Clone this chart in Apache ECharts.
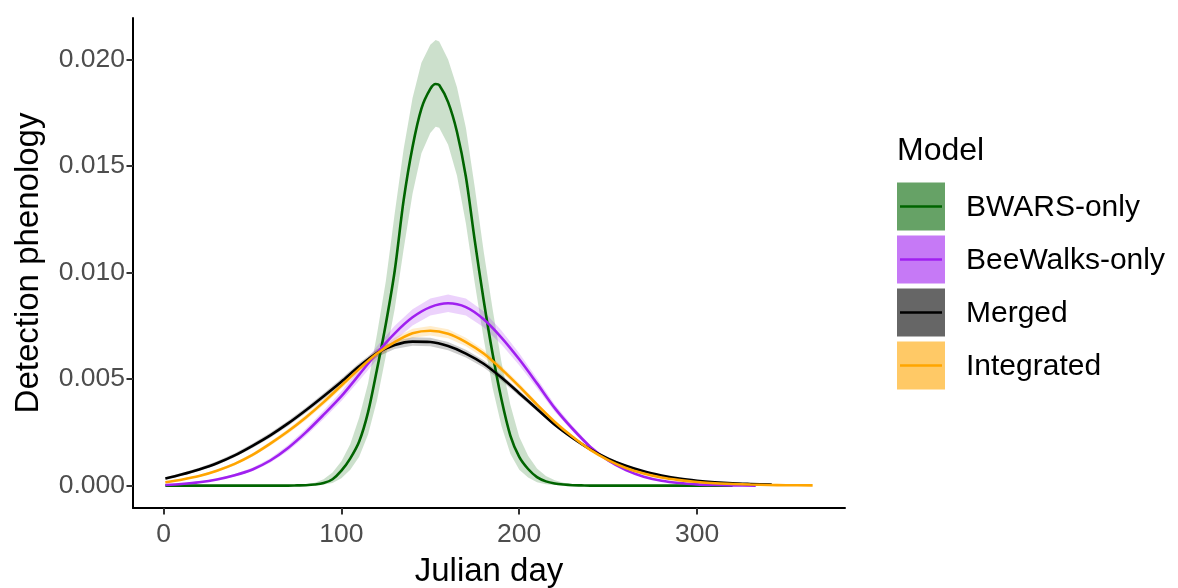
<!DOCTYPE html>
<html>
<head>
<meta charset="utf-8">
<script src="https://cdn.jsdelivr.net/npm/echarts@6/dist/echarts.min.js"></script>
<style>
  html, body { margin: 0; padding: 0; background: #ffffff; }
  #chart { width: 1178px; height: 588px; }
</style>
</head>
<body>
<div id="chart"></div>
<script>
// Detection phenology curves by model, with credible-interval ribbons

const modelNames = ['BWARS-only', 'BeeWalks-only', 'Merged', 'Integrated'];
const xTicks = [0, 100, 200, 300];
const yTicks = [0, 0.005, 0.010, 0.015, 0.020];

// BWARS-only
const bwarsDays = [1, 20, 40, 60, 70,
  75, 80, 85, 90, 95, 100, 105, 110, 115, 120, 125, 130, 135, 140, 145, 150, 153, 155,
  160, 165, 170, 175, 180, 185, 190, 195, 200, 205, 210, 215, 220, 225, 230, 235, 240,
  260, 280, 300, 320];
const bwarsMean = [0, 0, 0, 0, 0,
  0.00001, 0.00002, 0.00005, 0.00012, 0.00030, 0.00070, 0.00128, 0.00207, 0.00345, 0.00545,
  0.00760, 0.01010, 0.01340, 0.01590, 0.01770, 0.01862, 0.01885, 0.01880,
  0.01800, 0.01660, 0.01450, 0.01150, 0.00870, 0.00620, 0.00405, 0.00235, 0.00135, 0.00078,
  0.00040, 0.00020, 0.00010, 0.00005, 0.00002, 0.00001, 0,
  0, 0, 0, 0];
const bwarsLow = [0, 0, 0, 0, 0,
  0, 0.00001, 0.00002, 0.00005, 0.00012, 0.00035, 0.00075, 0.00135, 0.00240, 0.00400,
  0.00610, 0.00830, 0.01110, 0.01370, 0.01560, 0.01655, 0.01684, 0.01680,
  0.01600, 0.01455, 0.01230, 0.00950, 0.00690, 0.00460, 0.00280, 0.00150, 0.00075, 0.00038,
  0.00016, 0.00007, 0.00003, 0.00001, 0, 0, 0,
  0, 0, 0, 0];
const bwarsHigh = [0, 0, 0, 0, 0.00001,
  0.00003, 0.00006, 0.00013, 0.00030, 0.00062, 0.00115, 0.00195, 0.00320, 0.00480, 0.00710,
  0.00960, 0.01280, 0.01580, 0.01820, 0.01985, 0.02070, 0.02092, 0.02085,
  0.02000, 0.01870, 0.01680, 0.01400, 0.01100, 0.00830, 0.00580, 0.00380, 0.00230, 0.00140,
  0.00080, 0.00045, 0.00025, 0.00013, 0.00006, 0.00003, 0.00001,
  0, 0, 0, 0];

// BeeWalks-only
const beeWalksDays = [1, 10, 20, 30, 40, 50, 60, 70, 80, 90,
  100, 110, 120, 130, 140, 150, 160, 170, 180, 190,
  200, 210, 220, 230, 240, 250, 260, 270, 280, 290,
  300, 310, 320, 333];
const beeWalksMean = [0.00003, 0.00008, 0.00016, 0.00029, 0.00049, 0.00076, 0.00118, 0.00177, 0.00250, 0.00333,
  0.00420, 0.00521, 0.00623, 0.00715, 0.00790, 0.00838, 0.00856, 0.00838, 0.00781, 0.00695,
  0.00593, 0.00480, 0.00364, 0.00267, 0.00182, 0.00118, 0.00073, 0.00042, 0.00023, 0.00012,
  0.00006, 0.00003, 0.00001, 0.00000];
const beeWalksLow = [0.00002, 0.00006, 0.00013, 0.00025, 0.00043, 0.00068, 0.00107, 0.00163, 0.00233, 0.00313,
  0.00397, 0.00494, 0.00592, 0.00680, 0.00752, 0.00798, 0.00815, 0.00798, 0.00744, 0.00662,
  0.00565, 0.00457, 0.00347, 0.00254, 0.00173, 0.00112, 0.00069, 0.00040, 0.00021, 0.00011,
  0.00005, 0.00002, 0.00001, 0.00000];
const beeWalksHigh = [0.00004, 0.00010, 0.00019, 0.00033, 0.00055, 0.00084, 0.00129, 0.00191, 0.00267, 0.00353,
  0.00443, 0.00548, 0.00654, 0.00750, 0.00828, 0.00878, 0.00897, 0.00878, 0.00818, 0.00728,
  0.00621, 0.00503, 0.00381, 0.00280, 0.00191, 0.00124, 0.00077, 0.00044, 0.00025, 0.00013,
  0.00007, 0.00004, 0.00002, 0.00001];

// Merged
const mergedDays = [1, 10, 20, 30, 40, 50, 60, 70, 80, 90,
  100, 110, 120, 130, 140, 150, 160, 170, 180, 190,
  200, 210, 220, 230, 240, 250, 260, 270, 280, 290,
  300, 310, 320, 330, 342];
const mergedMean = [0.00033, 0.00052, 0.00076, 0.00105, 0.00142, 0.00187, 0.00236, 0.00292, 0.00354, 0.00420,
  0.00488, 0.00560, 0.00622, 0.00660, 0.00676, 0.00674, 0.00655, 0.00620, 0.00572, 0.00507,
  0.00434, 0.00360, 0.00286, 0.00224, 0.00170, 0.00127, 0.00093, 0.00067, 0.00048, 0.00033,
  0.00023, 0.00016, 0.00011, 0.00008, 0.00005];
const mergedLow = [0.00028, 0.00046, 0.00069, 0.00097, 0.00133, 0.00177, 0.00225, 0.00280, 0.00341, 0.00406,
  0.00473, 0.00544, 0.00604, 0.00641, 0.00656, 0.00654, 0.00636, 0.00602, 0.00555, 0.00492,
  0.00421, 0.00349, 0.00277, 0.00217, 0.00164, 0.00122, 0.00089, 0.00064, 0.00045, 0.00031,
  0.00021, 0.00014, 0.00009, 0.00006, 0.00003];
const mergedHigh = [0.00039, 0.00059, 0.00084, 0.00114, 0.00152, 0.00198, 0.00248, 0.00305, 0.00367, 0.00434,
  0.00503, 0.00576, 0.00640, 0.00679, 0.00696, 0.00694, 0.00674, 0.00638, 0.00589, 0.00522,
  0.00447, 0.00371, 0.00295, 0.00231, 0.00176, 0.00132, 0.00097, 0.00070, 0.00051, 0.00035,
  0.00025, 0.00018, 0.00013, 0.00010, 0.00007];

// Integrated
const integratedDays = [1, 10, 20, 30, 40, 50, 60, 70, 80, 90,
  100, 110, 120, 130, 140, 150, 160, 170, 180, 190,
  200, 210, 220, 230, 240, 250, 260, 270, 280, 290,
  300, 310, 320, 330, 340, 350, 365];
const integratedMean = [0.00016, 0.00028, 0.00045, 0.00070, 0.00102, 0.00144, 0.00197, 0.00255, 0.00320, 0.00392,
  0.00470, 0.00548, 0.00620, 0.00674, 0.00715, 0.00727, 0.00713, 0.00674, 0.00620, 0.00547,
  0.00466, 0.00380, 0.00299, 0.00229, 0.00168, 0.00120, 0.00083, 0.00057, 0.00038, 0.00026,
  0.00017, 0.00011, 0.00008, 0.00005, 0.00003, 0.00002, 0.00001];
const integratedLow = [0.00013, 0.00024, 0.00040, 0.00064, 0.00095, 0.00136, 0.00187, 0.00244, 0.00307, 0.00378,
  0.00455, 0.00532, 0.00602, 0.00654, 0.00694, 0.00705, 0.00692, 0.00654, 0.00602, 0.00531,
  0.00452, 0.00369, 0.00290, 0.00222, 0.00163, 0.00116, 0.00080, 0.00055, 0.00036, 0.00024,
  0.00016, 0.00010, 0.00007, 0.00004, 0.00002, 0.00001, 0.00000];
const integratedHigh = [0.00019, 0.00032, 0.00050, 0.00076, 0.00109, 0.00152, 0.00207, 0.00266, 0.00333, 0.00406,
  0.00485, 0.00564, 0.00638, 0.00694, 0.00736, 0.00749, 0.00734, 0.00694, 0.00638, 0.00563,
  0.00480, 0.00391, 0.00308, 0.00236, 0.00173, 0.00124, 0.00086, 0.00059, 0.00040, 0.00028,
  0.00018, 0.00012, 0.00009, 0.00006, 0.00004, 0.00003, 0.00002];

const FONT = '"Liberation Sans", Arial, Helvetica, sans-serif';
const lineColors = ['#006400', '#A020F0', '#000000', '#FFA500'];
const ribbonColors = ['rgba(0,100,0,0.2)', 'rgba(160,32,240,0.2)', 'rgba(0,0,0,0.2)', 'rgba(255,165,0,0.2)'];
const keyColors = ['#66A266', '#C679F6', '#666666', '#FFC966'];

const models = [
  { days: bwarsDays, mean: bwarsMean, low: bwarsLow, high: bwarsHigh },
  { days: beeWalksDays, mean: beeWalksMean, low: beeWalksLow, high: beeWalksHigh },
  { days: mergedDays, mean: mergedMean, low: mergedLow, high: mergedHigh },
  { days: integratedDays, mean: integratedMean, low: integratedLow, high: integratedHigh }
];

// Ribbon drawn as one polygon through the axis coordinate system
function ribbonSeries(name, m, fill) {
  const rows = m.days.map((d, i) => [d, m.low[i], m.high[i]]);
  return {
    type: 'custom',
    name: name + ' interval',
    data: rows,
    silent: true,
    z: 1,
    encode: { x: 0, y: [1, 2] },
    renderItem: function (params, api) {
      if (params.dataIndex !== 0) return null;
      const upper = [];
      const lower = [];
      for (let i = 0; i < rows.length; i++) {
        upper.push(api.coord([rows[i][0], rows[i][2]]));
        lower.push(api.coord([rows[i][0], rows[i][1]]));
      }
      return {
        type: 'polygon',
        shape: { points: upper.concat(lower.reverse()) },
        style: { fill: fill, stroke: null }
      };
    }
  };
}

function meanSeries(name, m, color) {
  return {
    type: 'line',
    name: name,
    data: m.days.map((d, i) => [d, m.mean[i]]),
    showSymbol: false,
    smooth: 0.3,
    silent: true,
    z: 3,
    lineStyle: { color: color, width: 2.6 },
    itemStyle: { color: color }
  };
}

const series = [];
models.forEach((m, i) => series.push(ribbonSeries(modelNames[i], m, ribbonColors[i])));
models.forEach((m, i) => series.push(meanSeries(modelNames[i], m, lineColors[i])));

// Legend: title, filled keys with a line through, labels
const legendGraphics = [{
  type: 'text',
  left: 897, top: 135,
  style: { text: 'Model', font: '32px ' + FONT, fill: '#000000' }
}];
modelNames.forEach((name, i) => {
  const top = 182.5 + 53 * i;
  legendGraphics.push({
    type: 'rect',
    shape: { x: 897, y: top, width: 48, height: 48 },
    style: { fill: keyColors[i], stroke: null }
  });
  legendGraphics.push({
    type: 'line',
    shape: { x1: 900, y1: top + 24, x2: 942, y2: top + 24 },
    style: { stroke: lineColors[i], lineWidth: 2.6 }
  });
  legendGraphics.push({
    type: 'text',
    x: 966, y: top + 25,
    style: { text: name, font: '30px ' + FONT, fill: '#000000', verticalAlign: 'middle', align: 'left' }
  });
});

const chart = echarts.init(document.getElementById('chart'), null, { renderer: 'canvas' });
chart.setOption({
  animation: false,
  backgroundColor: '#ffffff',
  grid: { left: 133, right: 333, top: 18, bottom: 80, containLabel: false, outerBoundsMode: 'none' },
  xAxis: {
    type: 'value',
    min: -17.2,
    max: 383.2,
    name: 'Julian day',
    nameLocation: 'middle',
    nameGap: 47,
    nameTextStyle: { fontSize: 33, color: '#000000', fontFamily: FONT },
    axisLine: { show: true, onZero: false, lineStyle: { color: '#000000', width: 2 } },
    axisTick: { show: true, length: 6.5, customValues: xTicks, lineStyle: { color: '#333333', width: 2 } },
    axisLabel: { customValues: xTicks, margin: 13.5, fontSize: 26.5, color: '#4D4D4D', fontFamily: FONT },
    splitLine: { show: false }
  },
  yAxis: {
    type: 'value',
    min: -0.00105,
    max: 0.02195,
    name: 'Detection phenology',
    nameLocation: 'middle',
    nameGap: 88,
    nameTextStyle: { fontSize: 33, color: '#000000', fontFamily: FONT },
    axisLine: { show: true, onZero: false, lineStyle: { color: '#000000', width: 2 } },
    axisTick: { show: true, length: 6.5, customValues: yTicks, lineStyle: { color: '#333333', width: 2 } },
    axisLabel: {
      customValues: yTicks, margin: 8, fontSize: 26.5, color: '#4D4D4D', fontFamily: FONT,
      formatter: v => v.toFixed(3)
    },
    splitLine: { show: false }
  },
  graphic: legendGraphics,
  series: series
});
</script>
</body>
</html>
